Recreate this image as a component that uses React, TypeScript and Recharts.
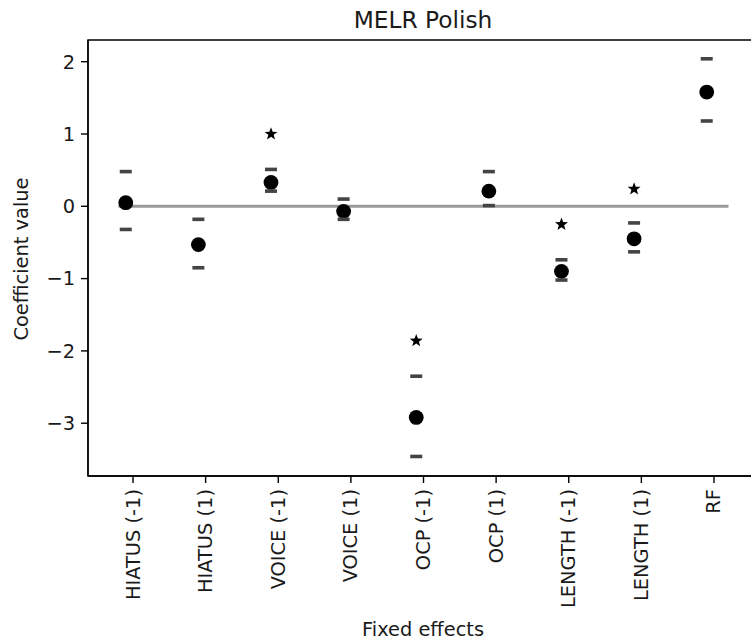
import React from 'react';
import {
    ComposedChart,
    Label,
    ReferenceArea,
    ReferenceLine,
    Scatter,
    XAxis,
    YAxis,
} from 'recharts';

const categories = [
    'HIATUS (-1)',
    'HIATUS (1)',
    'VOICE (-1)',
    'VOICE (1)',
    'OCP (-1)',
    'OCP (1)',
    'LENGTH (-1)',
    'LENGTH (1)',
    'RF',
];
const estimates = [0.05, -0.53, 0.33, -0.07, -2.92, 0.21, -0.9, -0.45, 1.58];
const upperBounds = [0.48, -0.18, 0.51, 0.1, -2.35, 0.48, -0.74, -0.23, 2.04];
const lowerBounds = [-0.32, -0.85, 0.21, -0.18, -3.46, 0.01, -1.02, -0.63, 1.18];
const stars: (number | null)[] = [null, null, 1.0, null, -1.86, null, -0.25, 0.24, null];
const yTicks = [-3, -2, -1, 0, 1, 2];

const FONT = '"DejaVu Sans", sans-serif';
const TEXT = '#1a1a1a';
const FS = 19.4;
// markers sit slightly left of the tick
const shift = -0.1;

const toPoints = (vals: (number | null)[]) =>
    vals
        .map((v, i) => (v === null ? null : { x: i + shift, y: v }))
        .filter((p) => p !== null) as { x: number; y: number }[];

const pointData = toPoints(estimates);
const upperData = toPoints(upperBounds);
const lowerData = toPoints(lowerBounds);
const starData = toPoints(stars);

const Dot = (props: any) => <circle cx={props.cx} cy={props.cy} r={7.4} fill="#000" />;

const Dash = (props: any) => (
    <rect x={props.cx - 6} y={props.cy - 1.8} width={12} height={3.6} fill="#444" />
);

const Star = (props: any) => {
    const { cx, cy } = props;
    const outer = 6.8;
    const inner = 2.8;
    const pts: string[] = [];
    for (let k = 0; k < 10; k++) {
        const r = k % 2 === 0 ? outer : inner;
        const a = -Math.PI / 2 + (k * Math.PI) / 5;
        pts.push(`${cx + r * Math.cos(a)},${cy + r * Math.sin(a)}`);
    }
    return <polygon points={pts.join(' ')} fill="#000" />;
};

const XTick = (props: any) => {
    const { x, y, payload } = props;
    return (
        <text
            x={x}
            y={y}
            transform={`rotate(-90, ${x}, ${y})`}
            textAnchor="end"
            dominantBaseline="central"
            fontFamily={FONT}
            fontSize={FS}
            fill={TEXT}
        >
            {categories[payload.value]}
        </text>
    );
};

const fmtY = (v: number) => (v < 0 ? `\u2212${Math.abs(v)}` : String(v));

export default function App() {
    return (
        <div
            style={{
                position: 'fixed',
                left: 0,
                top: 0,
                width: 751,
                height: 642,
                overflow: 'hidden',
                background: '#fff',
            }}
        >
            <div
                style={{
                    position: 'absolute',
                    left: 0,
                    width: 846,
                    top: 6,
                    textAlign: 'center',
                    fontFamily: FONT,
                    fontSize: 23.3,
                    color: TEXT,
                    lineHeight: '28px',
                }}
            >
                MELR Polish
            </div>
            <ComposedChart
                width={780}
                height={642}
                margin={{ top: 40, right: 21, bottom: 0, left: 0 }}
            >
                <XAxis
                    type="number"
                    dataKey="x"
                    domain={[-0.62, 8.62]}
                    ticks={[0, 1, 2, 3, 4, 5, 6, 7, 8]}
                    allowDataOverflow
                    height={166}
                    tickSize={7}
                    tickMargin={6}
                    axisLine={{ stroke: '#000', strokeWidth: 1.4 }}
                    tickLine={{ stroke: '#000', strokeWidth: 1.4 }}
                    tick={<XTick />}
                    interval={0}
                >
                    <Label
                        content={() => (
                            <text
                                x={423}
                                y={629}
                                textAnchor="middle"
                                dominantBaseline="central"
                                fontFamily={FONT}
                                fontSize={FS}
                                fill={TEXT}
                            >
                                Fixed effects
                            </text>
                        )}
                    />
                </XAxis>
                <YAxis
                    type="number"
                    dataKey="y"
                    domain={[-3.73, 2.3]}
                    ticks={yTicks}
                    allowDataOverflow
                    width={88}
                    tickSize={7}
                    tickMargin={6}
                    tickFormatter={fmtY}
                    axisLine={{ stroke: '#000', strokeWidth: 1.4 }}
                    tickLine={{ stroke: '#000', strokeWidth: 1.4 }}
                    tick={{ fill: TEXT, fontSize: FS, fontFamily: FONT }}
                >
                    <Label
                        content={() => (
                            <text
                                x={21}
                                y={259}
                                transform="rotate(-90, 21, 259)"
                                textAnchor="middle"
                                dominantBaseline="central"
                                fontFamily={FONT}
                                fontSize={FS}
                                fill={TEXT}
                            >
                                Coefficient value
                            </text>
                        )}
                    />
                </YAxis>
                <ReferenceArea
                    x1={-0.62}
                    x2={8.62}
                    y1={-3.73}
                    y2={2.3}
                    fill="none"
                    fillOpacity={0}
                    stroke="#000"
                    strokeWidth={1.4}
                />
                <ReferenceLine
                    segment={[
                        { x: -0.2, y: 0 },
                        { x: 8.2, y: 0 },
                    ]}
                    stroke="#9a9a9a"
                    strokeWidth={3}
                />
                <Scatter data={pointData} shape={<Dot />} isAnimationActive={false} />
                <Scatter data={upperData} shape={<Dash />} isAnimationActive={false} />
                <Scatter data={lowerData} shape={<Dash />} isAnimationActive={false} />
                <Scatter data={starData} shape={<Star />} isAnimationActive={false} />
            </ComposedChart>
        </div>
    );
}
